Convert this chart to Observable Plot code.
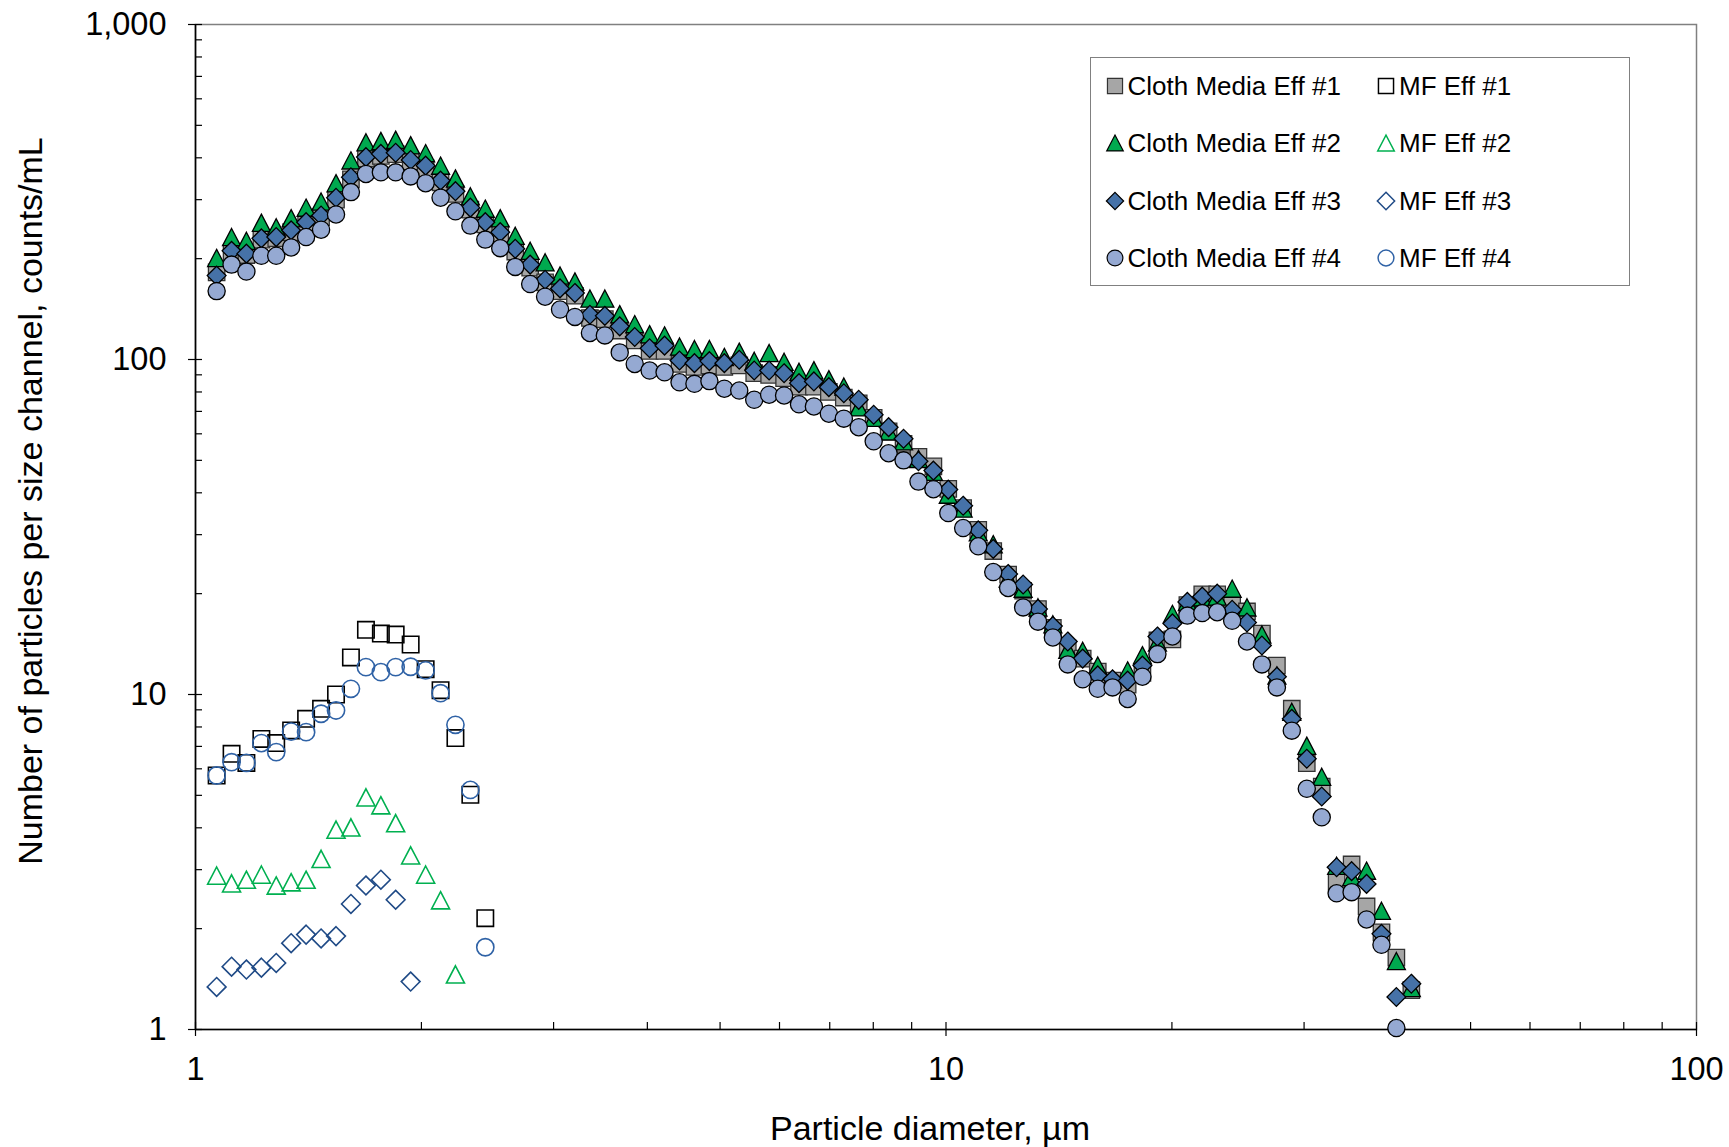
<!DOCTYPE html>
<html><head><meta charset="utf-8">
<script src="https://cdn.jsdelivr.net/npm/d3@7"></script>
<script src="https://cdn.jsdelivr.net/npm/@observablehq/plot@0.6"></script>
<style>
body{margin:0;background:#fff;font-family:"Liberation Sans",Arial,sans-serif;}
#wrap{position:relative;width:1729px;height:1147px;}
#legend{position:absolute;left:1090px;top:57px;width:540px;height:229px;border:1.5px solid #808080;box-sizing:border-box;background:#fff;}
.item{position:absolute;display:flex;align-items:center;font-size:26px;white-space:nowrap;height:30px;color:#000;}
.item svg{margin-right:2px;}
</style></head><body><div id="wrap"><div id="legend"></div></div>
<script>
// Particle counter channel diameters (µm)
const diameter = [1.067,1.117,1.169,1.224,1.281,1.341,1.404,1.470,1.539,1.611,
  1.687,1.766,1.848,1.935,2.026,2.121,2.220,2.324,2.433,2.547,
  2.667,2.792,2.923,3.060,3.203,3.354,3.511,3.675,3.848,4.028,
  4.217,4.415,4.622,4.839,5.066,5.303,5.552,5.812,6.085,6.370,
  6.668,6.981,7.309,7.651,8.010,8.386,8.779,9.190,9.621,10.07,
  10.54,11.04,11.56,12.10,12.67,13.26,13.88,14.53,15.21,15.93,
  16.67,17.46,18.27,19.13,20.03,20.97,21.95,22.98,24.06,25.18,
  26.36,27.60,28.89,30.25,31.67,33.15,34.71,36.34,38.04,39.82,41.69];

const cloth1 = [182,208,205,228,230,240,255,266,300,345,
  398,405,410,390,372,338,312,280,253,236,
  210,188,170,160,155,133,132,122,114,106,
  106,97,95,96,95,96,91,90,88,83,
  83,80,77,74,67,61,56,51.2,48,41.1,
  36,31.0,26.8,22.8,20.4,18.0,15.8,13.7,12.8,11.7,
  11.0,10.7,11.6,14.5,14.6,18.5,19.9,19.9,18.6,17.7,
  15.2,12.2,9.07,6.24,5.31,2.77,3.11,2.33,1.95,1.64,1.31];
const cloth2 = [201,232,226,256,248,264,284,296,336,393,
  445,449,453,436,413,379,347,307,282,264,
  234,211,195,178,171,152,152,136.5,127.5,119,
  118,109.3,107.4,107.4,101.8,105.5,99.1,104.5,98.4,91.9,
  92.9,87.3,83,72,67,61,57,50.5,46.2,39.5,
  35.9,30.5,28.1,22.2,20.7,18.2,16.2,13.6,13.5,12.2,
  11.1,11.8,13.1,14.3,17.4,18.9,19.5,19.6,20.7,18.2,
  15.1,11.4,8.88,7.03,5.68,3.08,2.85,2.98,2.26,1.60,1.33];
const cloth3 = [178,211,207,230,232,243,257,269,304,350,
  402,411,414,394,379,342,318,284,257,240,
  214,192,173,163,158,136,135,125.6,116.7,108,
  110,99.3,97.5,98.9,97.5,99.8,92.7,92.7,91,85,
  86,82.7,79.3,75.8,68.4,62.8,58,49.7,46.6,40.9,
  36.6,30.9,27.2,22.9,21.3,18.0,16.0,14.4,12.8,11.4,
  11.1,11.0,12.2,14.9,16.3,18.9,19.6,20.0,17.9,16.4,
  14.0,11.3,8.46,6.43,4.96,3.05,2.97,2.72,1.93,1.25,1.37];
const cloth4 = [160,192,183,204,204,216,232,244,271,316,
  358,362,362,352,336,304,277,251,228,215,
  189,168,154,141,134,120,118,105,97,92.7,
  91.6,85.5,84.6,86.2,81.8,80.8,75.8,78.5,78.1,73.5,
  72.4,68.9,66.6,62.8,57,52.5,50,43.2,41,34.8,
  31.4,27.7,23.2,20.8,18.2,16.5,14.8,12.3,11.1,10.4,
  10.5,9.7,11.3,13.2,14.9,17.2,17.5,17.6,16.6,14.4,
  12.3,10.5,7.8,5.23,4.3,2.55,2.57,2.13,1.79,1.01,null];
const mf1 = [5.73,6.65,6.25,7.37,7.16,7.81,8.46,9.06,10.0,12.9,15.6,15.2,15.1,14.1,11.9,10.3,7.41,5.02,2.15];
const mf2 = [2.88,2.73,2.80,2.90,2.69,2.75,2.80,3.23,3.95,4.01,4.93,4.67,4.13,3.31,2.90,2.43,1.46];
const mf3 = [1.34,1.54,1.51,1.53,1.58,1.81,1.92,1.87,1.90,2.37,2.69,2.80,2.44,1.39];
const mf4 = [5.73,6.28,6.25,7.16,6.73,7.75,7.72,8.76,8.96,10.4,12.07,11.66,12.07,12.1,11.8,10.09,8.12,5.19,1.76];

const seriesNames = ["Cloth Media Eff #1","Cloth Media Eff #2","Cloth Media Eff #3","Cloth Media Eff #4",
  "MF Eff #1","MF Eff #2","MF Eff #3","MF Eff #4"];
const seriesValues = [cloth1, cloth2, cloth3, cloth4, mf1, mf2, mf3, mf4];

const xMajor = [1,10,100];
const xMinor = [2,3,4,5,6,7,8,9,20,30,40,50,60,70,80,90];
const yMajor = [1,10,100,1000];
const yMinor = [2,3,4,5,6,7,8,9,20,30,40,50,60,70,80,90,200,300,400,500,600,700,800,900];
const xTitle = "Particle diameter, \u00b5m";
const yTitle = "Number of particles per size channel, counts/mL";

// marker shapes
function drawShape(kind, c) {
  if (kind === "square") { const h = 8.2; c.moveTo(-h,-h); c.lineTo(h,-h); c.lineTo(h,h); c.lineTo(-h,h); c.closePath(); }
  else if (kind === "diamond") { const h = 9.4; c.moveTo(0,-h); c.lineTo(h,0); c.lineTo(0,h); c.lineTo(-h,0); c.closePath(); }
  else if (kind === "triangle") { const w = 9, h = 8.6; c.moveTo(0,-h); c.lineTo(w,h); c.lineTo(-w,h); c.closePath(); }
  else { const r = 8.6; c.moveTo(r,0); c.arc(0,0,r,0,2*Math.PI); c.closePath(); }
}
const styles = [
  {shape:"square",   fill:"#A6A6A6", stroke:"#333333", sw:1.3},
  {shape:"triangle", fill:"#00A94F", stroke:"#000000", sw:1.3},
  {shape:"diamond",  fill:"#4672A8", stroke:"#000000", sw:1.3},
  {shape:"circle",   fill:"#95A9D2", stroke:"#000000", sw:1.3},
  {shape:"square",   fill:"none",    stroke:"#000000", sw:1.6},
  {shape:"triangle", fill:"none",    stroke:"#00B050", sw:1.6},
  {shape:"diamond",  fill:"none",    stroke:"#1F4A86", sw:1.6},
  {shape:"circle",   fill:"none",    stroke:"#2F62A6", sw:1.6}
];

const rows = [];
seriesValues.forEach((vals, s) => vals.forEach((v, i) => {
  if (v != null) rows.push({series: seriesNames[s], x: diameter[i], y: v});
}));

const dotMarks = seriesNames.map((name, s) => {
  const st = styles[s];
  return Plot.dot(rows.filter(d => d.series === name), {
    x: "x", y: "y",
    symbol: {draw: (c) => drawShape(st.shape, c)},
    fill: st.fill, stroke: st.stroke, strokeWidth: st.sw
  });
});

const chart = Plot.plot({
  width: 1729, height: 1147,
  marginLeft: 195, marginRight: 33, marginTop: 24, marginBottom: 118,
  x: {type: "log", domain: [1, 100]},
  y: {type: "log", domain: [1, 1000]},
  style: {fontFamily: "Liberation Sans, Arial, sans-serif", background: "white", color: "black"},
  marks: [
    Plot.frame({stroke: "#808080", strokeWidth: 1.5}),
    Plot.axisX(xMinor, {tickSize: 7, dy: -7, fill: "none", label: null, strokeWidth: 1.2}),
    Plot.axisX(xMajor, {tickSize: 14, dy: -7, fill: "none", label: null, strokeWidth: 1.2}),
    Plot.axisX(xMajor, {tickSize: 0, tickPadding: 27, fontSize: 32.5, tickFormat: d => String(d), label: null}),
    Plot.axisY(yMinor, {tickSize: 7, dx: 7, fill: "none", label: null, strokeWidth: 1.2}),
    Plot.axisY(yMajor, {tickSize: 14, dx: 7, fill: "none", label: null, strokeWidth: 1.2}),
    Plot.axisY(yMajor, {tickSize: 0, tickPadding: 29, fontSize: 32.5, tickFormat: d3.format(","), label: null}),
    Plot.ruleX([1], {stroke: "black", strokeWidth: 1.6}),
    Plot.ruleY([1], {stroke: "black", strokeWidth: 1.6}),
    Plot.text([yTitle], {text: d => d, frameAnchor: "left", rotate: -90, dx: -154, dy: -26,
      textAnchor: "middle", lineAnchor: "bottom", fontSize: 34, fill: "black"}),
    Plot.text([xTitle], {text: d => d, frameAnchor: "bottom", dx: -16, dy: 110,
      textAnchor: "middle", lineAnchor: "bottom", fontSize: 34, fill: "black"}),
    ...dotMarks
  ]
});
document.getElementById("wrap").prepend(chart);

// legend (inside the plot area, two columns)
const legend = d3.select("#legend");
const rowY = [28, 85, 143, 200];
seriesNames.forEach((name, s) => {
  const col = s < 4 ? 0 : 1, r = s % 4;
  const item = legend.append("div").attr("class", "item")
    .style("left", (col === 0 ? 12.5 : 284) + "px")
    .style("top", (rowY[r] - 15) + "px");
  const svg = item.append("svg").attr("width", 22).attr("height", 22);
  const p = d3.path(); drawShape(styles[s].shape, p);
  svg.append("path").attr("d", p.toString()).attr("transform", "translate(11,11) scale(0.92)")
    .attr("fill", styles[s].fill).attr("stroke", styles[s].stroke).attr("stroke-width", styles[s].sw);
  item.append("span").text(name);
});
</script>
</body></html>
